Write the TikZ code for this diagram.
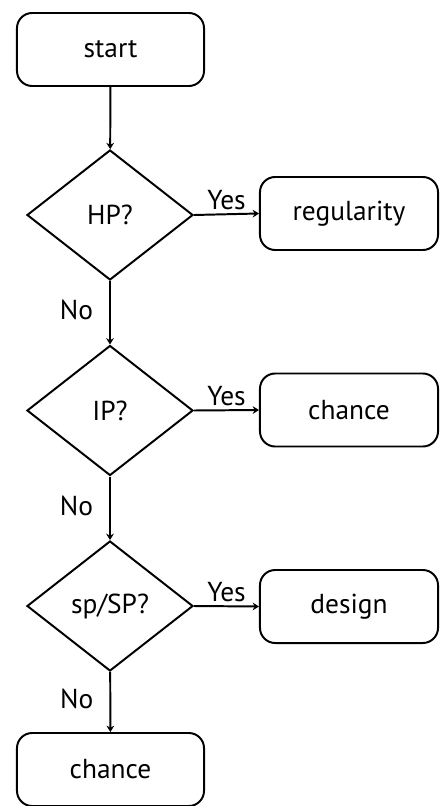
\documentclass[tikz,border=0pt]{standalone}
\usepackage{fontspec}
\setmainfont{PT Sans}
\usetikzlibrary{shapes.geometric, arrows.meta}

\begin{document}
\begin{tikzpicture}[x=0.025cm, y=-0.025cm, line width=1.4pt,
    >={Stealth[length=4.5pt, width=5.5pt]},
    endbox/.style={draw, rounded corners=0.38cm, minimum width=4.675cm, minimum height=1.825cm, font=\fontsize{19.5}{22}\selectfont},
    outbox/.style={endbox, minimum width=4.45cm},
    question/.style={draw, diamond, inner sep=0pt, minimum width=4.15cm, minimum height=3.25cm, font=\fontsize{19.5}{22}\selectfont},
    answer/.style={font=\fontsize{19.5}{22}\selectfont}]
        \useasboundingbox (0,0) rectangle (440,806);

        % Boxes and questions
        \node[endbox] (start) at (110.5,49.5) {start};
        \node[question] (hp) at (110,215) {HP?};
        \node[question] (ip) at (110,410.5) {IP?};
        \node[question] (sp) at (110,606) {sp/SP?};
        \node[endbox] (chance2) at (110.5,769.5) {chance};

        % Outcomes
        \node[outbox] (regularity) at (349,213.5) {regularity};
        \node[outbox] (chance1) at (349,410) {chance};
        \node[outbox] (design) at (349,606.5) {design};

        % Down the chain
        \draw[->] (start) -- (hp);
        \draw[->] (hp) -- node[answer, left, xshift=-8pt, yshift=2pt] {No} (ip);
        \draw[->] (ip) -- node[answer, left, xshift=-8pt, yshift=2pt] {No} (sp);
        \draw[->] (sp) -- node[answer, left, xshift=-8pt, yshift=2pt] {No} (chance2);

        % Yes branches
        \draw[->] (hp.east) -- node[answer, above, yshift=-1pt] {Yes} (regularity.west);
        \draw[->] (ip.east) -- node[answer, above, yshift=-1pt] {Yes} (chance1.west);
        \draw[->] (sp.east) -- node[answer, above, yshift=-1pt] {Yes} (design.west);
    \end{tikzpicture}
\end{document}
